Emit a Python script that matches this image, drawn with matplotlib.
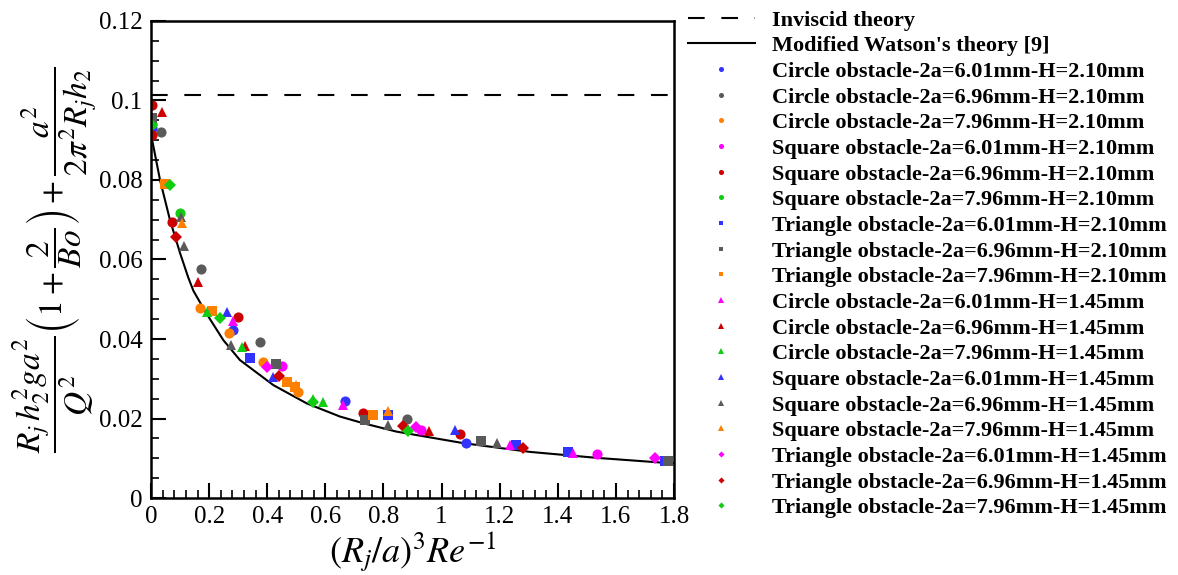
import matplotlib
matplotlib.use("Agg")
import matplotlib.pyplot as plt

plt.rcParams['font.family'] = ['Liberation Serif', 'DejaVu Serif']
plt.rcParams['mathtext.fontset'] = 'stix'

# theory curves
inviscid_y = 0.1015
watson_x = [0.004, 0.031, 0.065, 0.10, 0.128, 0.146, 0.19, 0.249, 0.306, 0.421,
            0.536, 0.650, 0.731, 0.845, 1.075, 1.304, 1.534, 1.797]
watson_y = [0.090, 0.080, 0.070, 0.0616, 0.0555, 0.0521, 0.0465, 0.0397, 0.0347, 0.0284,
            0.0238, 0.0205, 0.0188, 0.0167, 0.0138, 0.0116, 0.0101, 0.0087]

labels = [
    "Circle obstacle-2a=6.01mm-H=2.10mm",
    "Circle obstacle-2a=6.96mm-H=2.10mm",
    "Circle obstacle-2a=7.96mm-H=2.10mm",
    "Square obstacle-2a=6.01mm-H=2.10mm",
    "Square obstacle-2a=6.96mm-H=2.10mm",
    "Square obstacle-2a=7.96mm-H=2.10mm",
    "Triangle obstacle-2a=6.01mm-H=2.10mm",
    "Triangle obstacle-2a=6.96mm-H=2.10mm",
    "Triangle obstacle-2a=7.96mm-H=2.10mm",
    "Circle obstacle-2a=6.01mm-H=1.45mm",
    "Circle obstacle-2a=6.96mm-H=1.45mm",
    "Circle obstacle-2a=7.96mm-H=1.45mm",
    "Square obstacle-2a=6.01mm-H=1.45mm",
    "Square obstacle-2a=6.96mm-H=1.45mm",
    "Square obstacle-2a=7.96mm-H=1.45mm",
    "Triangle obstacle-2a=6.01mm-H=1.45mm",
    "Triangle obstacle-2a=6.96mm-H=1.45mm",
    "Triangle obstacle-2a=7.96mm-H=1.45mm",
]

xs = [
    [0.003, 0.283, 0.668, 1.084],
    [0.034, 0.172, 0.375, 0.880],
    [0.000, 0.169, 0.270, 0.384, 0.507],
    [0.450, 0.928, 1.534],
    [0.002, 0.002, 0.071, 0.300, 0.731, 1.063],
    [0.003, 0.100],
    [0.341, 0.817, 1.256, 1.436, 1.769],
    [0.003, 0.430, 0.736, 1.134, 1.780],
    [0.048, 0.209, 0.467, 0.496, 0.763],
    [0.283, 0.662, 1.235, 1.451],
    [0.039, 0.161, 0.322, 0.958],
    [0.192, 0.312, 0.559, 0.591],
    [0.260, 0.421, 1.046],
    [0.103, 0.115, 0.274, 0.817, 1.190],
    [0.106, 0.500, 0.817],
    [0.400, 0.912, 1.734],
    [0.085, 0.442, 0.866, 1.279],
    [0.003, 0.065, 0.237, 0.559, 0.885],
]
ys = [
    [0.0930, 0.0423, 0.0245, 0.0138],
    [0.0921, 0.0576, 0.0393, 0.0198],
    [0.0950, 0.0477, 0.0414, 0.0343, 0.0267],
    [0.0333, 0.0171, 0.0111],
    [0.0989, 0.0913, 0.0695, 0.0456, 0.0213, 0.0161],
    [0.0940, 0.0716],
    [0.0351, 0.0209, 0.0133, 0.0116, 0.0094],
    [0.0955, 0.0336, 0.0196, 0.0143, 0.0093],
    [0.0790, 0.0470, 0.0291, 0.0280, 0.0209],
    [0.0445, 0.0234, 0.0133, 0.0114],
    [0.0972, 0.0544, 0.0383, 0.0169],
    [0.0469, 0.0381, 0.0250, 0.0242],
    [0.0469, 0.0305, 0.0171],
    [0.0708, 0.0634, 0.0385, 0.0184, 0.0138],
    [0.0691, 0.0285, 0.0219],
    [0.0329, 0.0178, 0.0100],
    [0.0656, 0.0308, 0.0181, 0.0125],
    [0.0938, 0.0787, 0.0452, 0.0242, 0.0169],
]

palette = ['#3333ff', '#5a5a5a', '#ff7f00', '#ff00ff', '#cc0000', '#11cc11']
markers = ['o'] * 6 + ['s'] * 3 + ['^'] * 6 + ['D'] * 3
colors = palette + palette[:3] + palette[3:] + palette + palette[3:]
sizes = [7.3] * 6 + [6.8] * 3 + [7.5] * 6 + [6.2] * 3

fig = plt.figure(figsize=(11.78, 5.75), dpi=100)
ax = fig.add_axes([0.1282, 0.1339, 0.444, 0.8296])

ax.plot([0, 1.8], [inviscid_y, inviscid_y], color='black', lw=1.5,
        dashes=(8, 8), label='Inviscid theory')
ax.plot(watson_x, watson_y, color='black', lw=1.5,
        label="Modified Watson's theory [9]")

for i in range(len(labels)):
    ax.plot(xs[i], ys[i], linestyle='none', marker=markers[i], ms=sizes[i],
            color=colors[i], markeredgewidth=0, label=labels[i])

ax.set_xlim(0, 1.8)
ax.set_ylim(0, 0.12)
ax.set_xticks([0, 0.2, 0.4, 0.6, 0.8, 1, 1.2, 1.4, 1.6, 1.8])
ax.set_xticklabels(['0', '0.2', '0.4', '0.6', '0.8', '1', '1.2', '1.4', '1.6', '1.8'])
ax.set_yticks([0, 0.02, 0.04, 0.06, 0.08, 0.1, 0.12])
ax.set_yticklabels(['0', '0.02', '0.04', '0.06', '0.08', '0.1', '0.12'])
ax.set_xticks([0.04 * k for k in range(1, 45) if k % 5], minor=True)
ax.set_yticks([0.005 * k for k in range(1, 24) if k % 4], minor=True)
ax.tick_params(which='major', direction='in', length=11, width=1.5, labelsize=18, pad=6)
ax.tick_params(which='minor', direction='in', length=5.5, width=1.2)
for s in ax.spines.values():
    s.set_linewidth(1.8)

ax.set_xlabel(r'$\left(R_j/a\right)^3Re^{-1}$', fontsize=26)
ax.xaxis.set_label_coords(0.5, -0.065)
ax.set_ylabel(r'$\dfrac{R_j\,h_2^2ga^2}{Q^2}\left(1+\dfrac{2}{Bo}\right)+\dfrac{a^2}{2\pi^2R_jh_2}$',
              fontsize=24)
ax.yaxis.set_label_coords(-0.098, 0.5)

leg = fig.legend(loc='upper left', bbox_to_anchor=(688 / 1178, 1 - 10 / 575), frameon=False,
                 numpoints=1, markerscale=0.5, handlelength=3.0, handletextpad=0.8,
                 labelspacing=0.23, borderpad=0, borderaxespad=0,
                 prop={'family': ['Liberation Serif'], 'weight': 'bold', 'size': 16})

fig.savefig('out.png', dpi=100)
